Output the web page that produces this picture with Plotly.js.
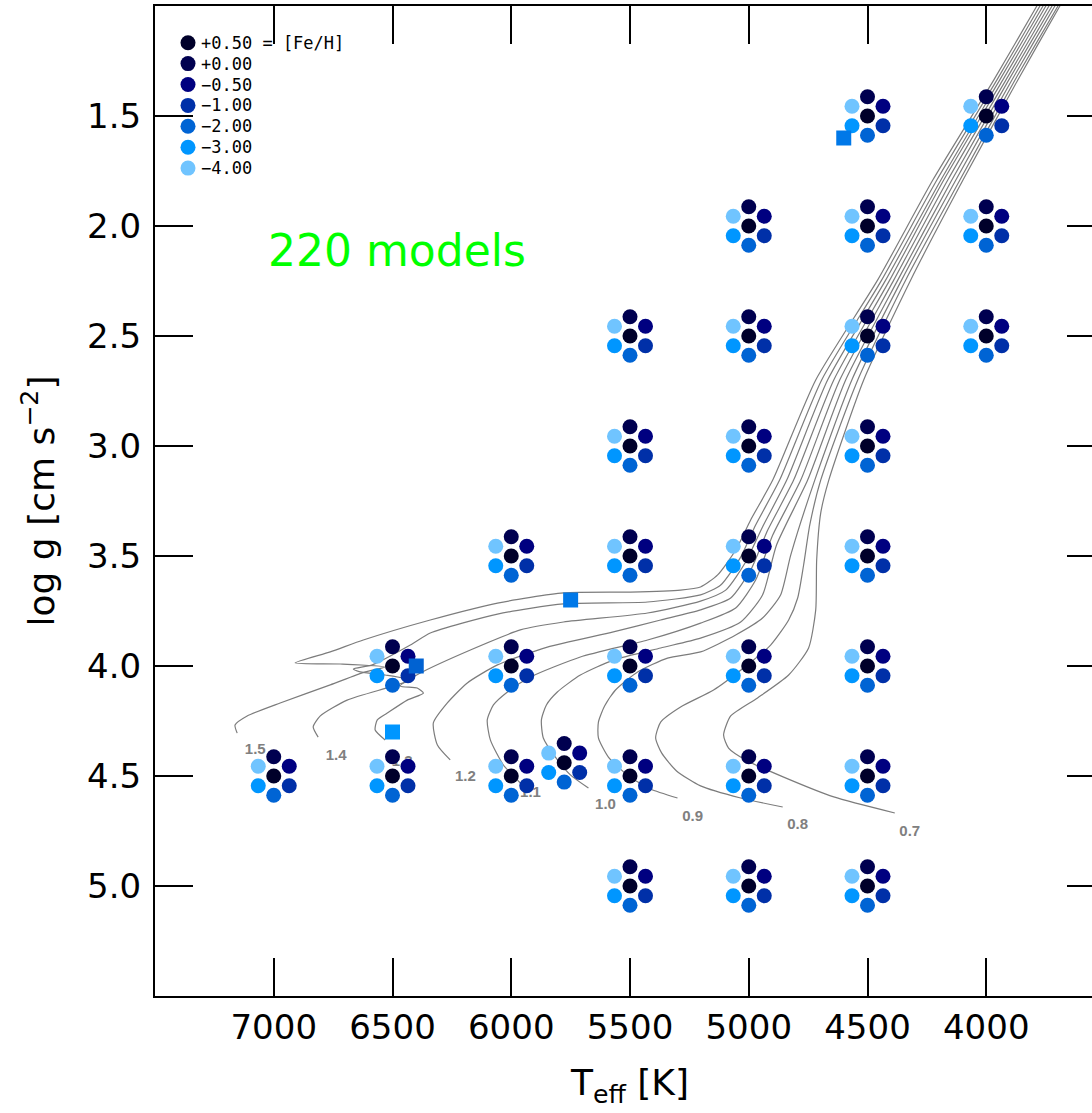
<!DOCTYPE html>
<html><head><meta charset="utf-8">
<script src="https://cdn.plot.ly/plotly-3.0.1.min.js"></script>
<style>html,body{margin:0;padding:0;overflow:hidden;background:#fff}#chart{width:1150px;height:1113px}</style>
</head><body><div id="chart"></div>
<script>
// ---- metallicity series ----
const fehLabels = ['+0.50 = [Fe/H]', '+0.00', '\u22120.50', '\u22121.00', '\u22122.00', '\u22123.00', '\u22124.00'];
const fehColors = ['#00002a', '#000050', '#000080', '#0030a8', '#0064d4', '#0096ff', '#70c4ff'];

// ---- model grid (Teff, log g) ----
const gridTeff = [4500, 4000,
                  5000, 4500, 4000,
                  5500, 5000, 4500, 4000,
                  5500, 5000, 4500,
                  6000, 5500, 5000, 4500,
                  6500, 6000, 5500, 5000, 4500,
                  7000, 6500, 6000, 5777, 5500, 5000, 4500,
                  5500, 5000, 4500];
const gridLogg = [1.5, 1.5,
                  2.0, 2.0, 2.0,
                  2.5, 2.5, 2.5, 2.5,
                  3.0, 3.0, 3.0,
                  3.5, 3.5, 3.5, 3.5,
                  4.0, 4.0, 4.0, 4.0, 4.0,
                  4.5, 4.5, 4.5, 4.44, 4.5, 4.5, 4.5,
                  5.0, 5.0, 5.0];

// ---- extra single models (squares) ----
const squareTeff = [4600, 5750, 6400, 6500];
const squareLogg = [1.6, 3.7, 4.0, 4.3];
const squareColors = ['#0078e8', '#0078e8', '#0062d2', '#0096ff'];

// ---- evolutionary tracks ----
const trackMasses = ['1.5', '1.4', '1.3', '1.2', '1.1', '1.0', '0.9', '0.8', '0.7'];
const track15Teff = [7154,7163,7112,6973,6762,6615,6531,6720,6910,6762,6623,6341,6058,5780,5498,5287,5203,5131,5055,4992,4899,4718,4457,4225,3968,3787,3723];
const track15Logg = [4.305,4.268,4.227,4.168,4.086,4.027,4.005,3.991,3.986,3.936,3.882,3.791,3.714,3.668,3.664,3.655,3.641,3.586,3.473,3.336,3.155,2.700,2.245,1.791,1.336,1.0,0.882];
const track14Teff = [6813,6834,6804,6691,6509,6425,6531,6636,6665,6585,6425,6341,6058,5780,5426,5203,5118,5034,4971,4870,4693,4440,4208,3955,3774,3711];
const track14Logg = [4.323,4.277,4.227,4.155,4.095,4.064,4.041,4.027,4.014,3.995,3.905,3.850,3.764,3.718,3.709,3.677,3.632,3.505,3.359,3.155,2.700,2.245,1.791,1.336,1.0,0.882];
const track13Teff = [6531,6573,6564,6522,6438,6370,6396,6467,6383,6172,5962,5780,5426,5203,5097,5013,4942,4840,4668,4423,4191,3943,3761,3698];
const track13Logg = [4.336,4.291,4.245,4.214,4.155,4.123,4.100,4.091,4.032,3.927,3.836,3.800,3.759,3.705,3.655,3.527,3.368,3.155,2.700,2.245,1.791,1.336,1.0,0.882];
const track12Teff = [6257,6311,6328,6269,6185,6058,5848,5570,5371,5203,5076,4992,4920,4811,4642,4406,4179,3930,3749,3685];
const track12Logg = [4.427,4.359,4.259,4.168,4.077,3.995,3.914,3.845,3.791,3.745,3.691,3.564,3.382,3.155,2.700,2.245,1.791,1.336,1.0,0.882];
const track11Teff = [5953,6033,6088,6101,6075,6016,5919,5709,5426,5203,5055,4971,4899,4781,4617,4389,4162,3917,3736,3673];
const track11Logg = [4.541,4.450,4.336,4.245,4.177,4.118,4.050,3.959,3.882,3.805,3.736,3.609,3.405,3.155,2.700,2.245,1.791,1.336,1.0,0.882];
const track10Teff = [5675,5751,5814,5865,5873,5852,5806,5709,5570,5371,5203,5034,4942,4883,4752,4592,4372,4145,3905,3723,3660];
const track10Logg = [4.555,4.495,4.414,4.327,4.245,4.177,4.118,4.041,3.973,3.918,3.873,3.800,3.677,3.450,3.155,2.700,2.245,1.791,1.336,1.0,0.882];
const track09Teff = [5300,5414,5506,5591,5633,5633,5607,5561,5468,5342,5203,5055,4942,4866,4823,4722,4566,4356,4128,3892,3711,3648];
const track09Logg = [4.600,4.559,4.500,4.414,4.327,4.255,4.182,4.109,4.027,3.964,3.936,3.859,3.782,3.677,3.495,3.155,2.700,2.245,1.791,1.336,1.0,0.882];
const track08Teff = [4857,5034,5203,5304,5367,5392,5371,5287,5148,5022,4908,4832,4794,4769,4743,4697,4541,4339,4111,3879,3698,3635];
const track08Logg = [4.641,4.600,4.545,4.477,4.395,4.327,4.255,4.186,4.109,4.009,3.905,3.791,3.691,3.541,3.359,3.155,2.700,2.245,1.791,1.336,1.0,0.882];
const track07Teff = [4385,4642,4853,5013,5085,5106,5076,4963,4832,4748,4718,4714,4697,4663,4516,4318,4098,3867,3690,3626];
const track07Logg = [4.668,4.595,4.505,4.427,4.373,4.314,4.227,4.145,4.041,3.918,3.745,3.518,3.305,3.155,2.700,2.245,1.791,1.336,1.0,0.882];

// track mass labels
const labelTeff = [7078, 6737, 6459, 6193, 5919, 5603, 5236, 4794, 4322];
const labelLogg = [4.382, 4.409, 4.436, 4.505, 4.577, 4.632, 4.686, 4.723, 4.755];

const xTickVals = [7000, 6500, 6000, 5500, 5000, 4500, 4000];
const yTickVals = [1.5, 2.0, 2.5, 3.0, 3.5, 4.0, 4.5, 5.0];

// ---- geometry ----
const W = 1150, H = 1113;
const M = {l: 155, r: 45, t: 6, b: 117};
const xRange = [7500, 3500], yRange = [5.5, 1.0];
const plotW = W - M.l - M.r, plotH = H - M.t - M.b;
const kx = (xRange[1] - xRange[0]) / plotW;   // data per pixel (negative)
const ky = (yRange[0] - yRange[1]) / plotH;   // logg per pixel downward
// hexagonal arrangement of the 7 metallicities around each grid point (pixels)
const hexPx = [[0, 0], [0, -19.3], [15.5, -9.7], [15.5, 9.7], [0, 19.3], [-15.5, 9.7], [-15.5, -9.7]];

const tracksT = [track15Teff, track14Teff, track13Teff, track12Teff, track11Teff, track10Teff, track09Teff, track08Teff, track07Teff];
const tracksG = [track15Logg, track14Logg, track13Logg, track12Logg, track11Logg, track10Logg, track09Logg, track08Logg, track07Logg];

const traces = [];
tracksT.forEach((t, i) => {
  traces.push({x: t, y: tracksG[i], type: 'scatter', mode: 'lines', name: trackMasses[i],
    line: {color: '#7c7c7c', width: 1.2, shape: 'spline', smoothing: 0.6},
    hoverinfo: 'skip', showlegend: false});
});
traces.push({x: labelTeff, y: labelLogg, type: 'scatter', mode: 'text', text: trackMasses,
  textfont: {family: 'Liberation Sans, Arial, sans-serif', size: 15, color: '#808080', weight: 'bold'},
  hoverinfo: 'skip', showlegend: false});

fehLabels.forEach((lab, k) => {
  const dx = hexPx[k][0] * kx, dy = hexPx[k][1] * ky;
  traces.push({x: gridTeff.map(v => v + dx), y: gridLogg.map(v => v + dy),
    type: 'scatter', mode: 'markers', name: lab,
    marker: {size: 15, color: fehColors[k], line: {width: 0}},
    hoverinfo: 'skip', showlegend: false});
});
traces.push({x: squareTeff, y: squareLogg, type: 'scatter', mode: 'markers',
  marker: {symbol: 'square', size: 15, color: squareColors, line: {width: 0}},
  hoverinfo: 'skip', showlegend: false});

// custom legend (top-left)
const shapes = [], annotations = [];
fehLabels.forEach((lab, k) => {
  const py = 42.7 + 20.9 * k - M.t;
  const yp = 1 - py / plotH;
  shapes.push({type: 'circle', xref: 'paper', yref: 'paper', xsizemode: 'pixel', ysizemode: 'pixel',
    xanchor: (188 - M.l) / plotW, yanchor: yp, x0: -7.5, x1: 7.5, y0: -7.5, y1: 7.5,
    fillcolor: fehColors[k], line: {width: 0}});
  annotations.push({xref: 'paper', yref: 'paper', x: (200 - M.l) / plotW, y: yp, xanchor: 'left', yanchor: 'middle',
    text: lab, showarrow: false, borderpad: 0,
    font: {family: 'DejaVu Sans Mono, monospace', size: 17, color: '#000'}});
});
annotations.push({xref: 'paper', yref: 'paper', x: (266 - M.l) / plotW, y: 1 - (250 - M.t) / plotH,
  xanchor: 'left', yanchor: 'middle', text: '220 models', showarrow: false,
  font: {family: 'DejaVu Sans, sans-serif', size: 44, color: '#00ff00'}});

const axisCommon = {ticks: 'inside', ticklen: 38, tickwidth: 2, tickcolor: '#000', showline: true, linewidth: 2,
  linecolor: '#000', mirror: 'ticks', showgrid: false, zeroline: false,
  tickfont: {family: 'DejaVu Sans, sans-serif', size: 34, color: '#000'}};

const layout = {
  width: W, height: H, margin: M, paper_bgcolor: '#fff', plot_bgcolor: '#fff', showlegend: false,
  xaxis: Object.assign({}, axisCommon, {range: xRange, autorange: false, tickvals: xTickVals, ticklabelstandoff: 0,
    title: {text: 'T<sub>eff</sub> [K]', font: {family: 'DejaVu Sans, sans-serif', size: 36, color: '#000'}, standoff: 24}}),
  yaxis: Object.assign({}, axisCommon, {range: yRange, autorange: false, tickvals: yTickVals, tickformat: '.1f', ticklabelstandoff: 5,
    title: {text: 'log g [cm s<sup>\u22122</sup>]', font: {family: 'DejaVu Sans, sans-serif', size: 36, color: '#000'}, standoff: 22}}),
  shapes: shapes, annotations: annotations
};
Plotly.newPlot('chart', traces, layout, {displayModeBar: false, staticPlot: true});
</script></body></html>
